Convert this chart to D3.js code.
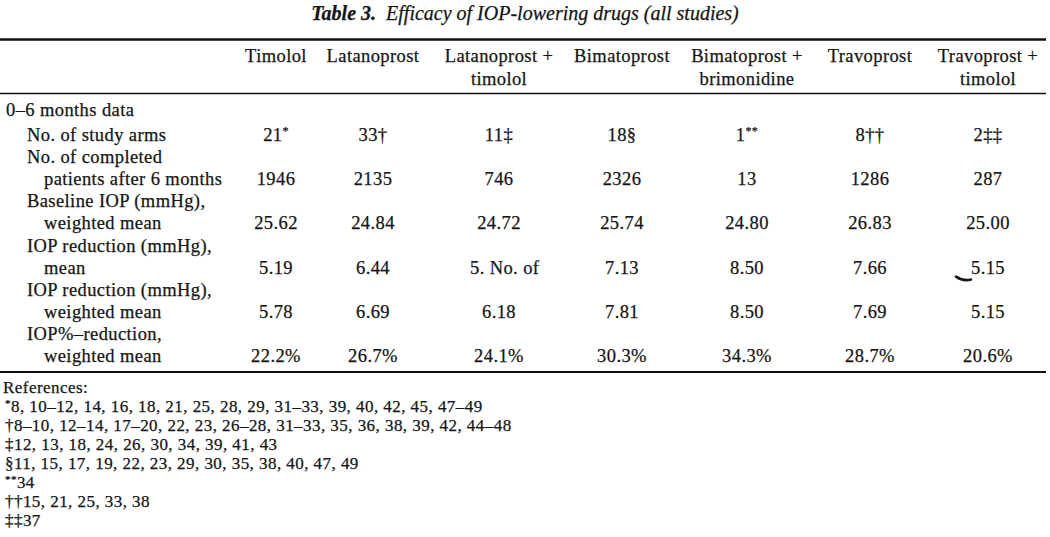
<!DOCTYPE html>
<html>
<head>
<meta charset="utf-8">
<script src="https://cdn.jsdelivr.net/npm/d3@7"></script>
<style>
  body { margin: 0; background: #fff; }
  svg text { font-family: "Liberation Serif", "Times New Roman", serif; fill: #151515; stroke: #151515; stroke-width: 0.25px; }
  .cell { font-size: 18.5px; letter-spacing: 0.4px; }
  .ref { font-size: 17px; letter-spacing: 0.45px; }
</style>
</head>
<body>
<svg id="chart" width="1050" height="537"></svg>
<script>
// table content
const drugs = ['Timolol', 'Latanoprost', 'Latanoprost + timolol', 'Bimatoprost',
  'Bimatoprost + brimonidine', 'Travoprost', 'Travoprost + timolol'];
const headerLines = [['Timolol'], ['Latanoprost'], ['Latanoprost +', 'timolol'], ['Bimatoprost'],
  ['Bimatoprost +', 'brimonidine'], ['Travoprost'], ['Travoprost +', 'timolol']];

const studyArms = [21, 33, 11, 18, 1, 8, 2];
const armNotes = ['*', '†', '‡', '§', '**', '††', '‡‡'];
const completed = [1946, 2135, 746, 2326, 13, 1286, 287];
const baselineIOP = [25.62, 24.84, 24.72, 25.74, 24.80, 26.83, 25.00];
const reductionMean = [5.19, 6.44, null, 7.13, 8.50, 7.66, 5.15];
const reductionWeighted = [5.78, 6.69, 6.18, 7.81, 8.50, 7.69, 5.15];
const pctReduction = [22.2, 26.7, 24.1, 30.3, 34.3, 28.7, 20.6];
const garbledCell = '5. No. of'; // overprinted cell in the scan

const sectionLabel = '0–6 months data';
const rowLabels = [
  ['No. of study arms'],
  ['No. of completed', 'patients after 6 months'],
  ['Baseline IOP (mmHg),', 'weighted mean'],
  ['IOP reduction (mmHg),', 'mean'],
  ['IOP reduction (mmHg),', 'weighted mean'],
  ['IOP%–reduction,', 'weighted mean'],
];

const references = [
  ['*', '8, 10–12, 14, 16, 18, 21, 25, 28, 29, 31–33, 39, 40, 42, 45, 47–49'],
  ['†', '8–10, 12–14, 17–20, 22, 23, 26–28, 31–33, 35, 36, 38, 39, 42, 44–48'],
  ['‡', '12, 13, 18, 24, 26, 30, 34, 39, 41, 43'],
  ['§', '11, 15, 17, 19, 22, 23, 29, 30, 35, 38, 40, 47, 49'],
  ['**', '34'],
  ['††', '15, 21, 25, 33, 38'],
  ['‡‡', '37'],
];

const W = 1050;
const svg = d3.select('#chart');

const x = d3.scaleOrdinal()
  .domain(drugs)
  .range([276, 373, 499, 622, 747, 870, 988]);

// baseline of each text line in the body
const y = d3.scaleLinear().domain([1, 11]).range([141, 362]);
const refY = d3.scaleLinear().domain([0, 7]).range([393, 526]);

const f2 = d3.format('.2f');
const pct = d => d3.format('.1f')(d) + '%';

// title
const title = svg.append('text')
  .attr('x', W / 2)
  .attr('y', 20)
  .attr('text-anchor', 'middle')
  .style('font-size', '20px')
  .style('font-style', 'italic');
title.append('tspan').style('font-weight', 'bold').text('Table 3.');
title.append('tspan').text('\u2002Efficacy of IOP-lowering drugs (all studies)');

// rules
const rules = [
  { y: 39.5, w: 2.4 },
  { y: 93.5, w: 1.6 },
  { y: 372, w: 2.2 },
];
svg.selectAll('line.rule')
  .data(rules)
  .enter()
  .append('line')
  .attr('class', 'rule')
  .attr('x1', 0)
  .attr('x2', 1046)
  .attr('y1', d => d.y)
  .attr('y2', d => d.y)
  .attr('stroke', '#111')
  .attr('stroke-width', d => d.w);

// column headers
const heads = svg.selectAll('g.head')
  .data(drugs)
  .enter()
  .append('g')
  .attr('class', 'head');
heads.each(function (d, i) {
  d3.select(this).selectAll('text')
    .data(headerLines[i])
    .enter()
    .append('text')
    .attr('class', 'cell')
    .attr('x', x(d))
    .attr('y', (s, j) => 62 + 23 * j)
    .attr('text-anchor', 'middle')
    .text(s => s);
});

// row labels
svg.append('text')
  .attr('class', 'cell')
  .attr('x', 6)
  .attr('y', y(0) - 3)
  .text(sectionLabel);

let line = 1;
const rowLast = [];
rowLabels.forEach(lines => {
  lines.forEach((s, j) => {
    svg.append('text')
      .attr('class', 'cell')
      .attr('x', j === 0 ? 27 : 44)
      .attr('y', y(line))
      .text(s);
    line += 1;
  });
  rowLast.push(line - 1);
});

// values
const cellRow = (row, values, fmt) => {
  svg.append('g')
    .selectAll('text')
    .data(values)
    .enter()
    .append('text')
    .attr('class', 'cell')
    .attr('x', (d, i) => x(drugs[i]))
    .attr('y', y(rowLast[row]))
    .attr('text-anchor', 'middle')
    .text(d => (d === null ? '' : fmt(d)));
};

// study arms with note markers
const arms = svg.append('g')
  .selectAll('text')
  .data(studyArms)
  .enter()
  .append('text')
  .attr('class', 'cell')
  .attr('x', (d, i) => x(drugs[i]))
  .attr('y', y(rowLast[0]))
  .attr('text-anchor', 'middle');
arms.append('tspan').text(d => d);
arms.append('tspan')
  .style('font-size', (d, i) => (armNotes[i].includes('*') ? '12px' : null))
  .attr('dy', (d, i) => (armNotes[i].includes('*') ? -6 : 0))
  .text((d, i) => armNotes[i]);

cellRow(1, completed, d => d);
cellRow(2, baselineIOP, f2);
cellRow(3, reductionMean, f2);
cellRow(4, reductionWeighted, f2);
cellRow(5, pctReduction, pct);

svg.append('text')
  .attr('class', 'cell')
  .attr('x', x(drugs[2]) - 29)
  .attr('y', y(rowLast[3]))
  .text(garbledCell);

// stray pen mark beside the last cell of the mean row
const mx = x(drugs[6]) - 32;
const my = y(rowLast[3]) + 3;
svg.append('path')
  .attr('d', `M${mx},${my} q7,5 15,3`)
  .attr('fill', 'none')
  .attr('stroke', '#151515')
  .attr('stroke-width', 2.6)
  .attr('stroke-linecap', 'round');

// references
svg.append('text')
  .attr('class', 'ref')
  .attr('x', 3)
  .attr('y', refY(0))
  .text('References:');

const refs = svg.append('g')
  .selectAll('text')
  .data(references)
  .enter()
  .append('text')
  .attr('class', 'ref')
  .attr('x', 5)
  .attr('y', (d, i) => refY(i + 1));
refs.append('tspan')
  .style('font-size', d => (d[0].includes('*') ? '11px' : null))
  .attr('dy', d => (d[0].includes('*') ? -5 : 0))
  .text(d => d[0]);
refs.append('tspan')
  .attr('dy', d => (d[0].includes('*') ? 5 : 0))
  .text(d => d[1]);
</script>
</body>
</html>
